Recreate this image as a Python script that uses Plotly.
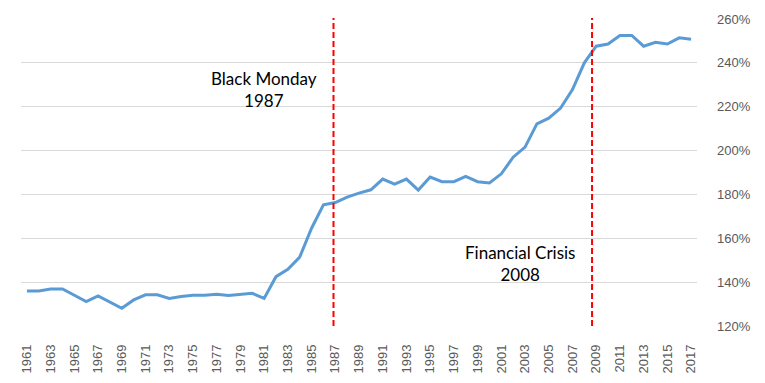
import plotly.graph_objects as go

years = list(range(1961, 2018))
values = [136.0, 136.0, 136.9, 136.9, 134.0, 131.1, 133.7, 131.0, 128.1, 131.9,
          134.2, 134.2, 132.6, 133.5, 134.0, 134.0, 134.5, 133.9, 134.3, 134.9,
          132.6, 142.5, 145.9, 151.4, 164.6, 175.3, 176.3, 178.8, 180.6, 182.1,
          187.0, 184.7, 187.0, 182.0, 187.9, 185.8, 185.8, 188.2, 185.8, 185.2,
          189.4, 197.0, 201.6, 212.2, 214.8, 219.4, 227.8, 240.0, 247.6, 248.6,
          252.5, 252.5, 247.6, 249.4, 248.6, 251.4, 250.8]
tick_years = list(range(1961, 2018, 2))
y_ticks = [120, 140, 160, 180, 200, 220, 240, 260]

events = [("Black Monday<br>1987", 1986.85, 1981.0, 228.0),
          ("Financial Crisis<br>2008", 2008.65, 2002.6, 148.7)]

fig = go.Figure()
fig.add_trace(go.Scatter(x=years, y=values, mode="lines",
                         line=dict(color="#5b9bd5", width=3), showlegend=False,
                         hoverinfo="x+y"))

for label, xline, xt, yt in events:
    fig.add_shape(type="line", xref="x", yref="paper", x0=xline, x1=xline, y0=0, y1=1.003,
                  line=dict(color="#ff0000", width=2, dash="6px,3px"))
    fig.add_annotation(x=xt, y=yt, xref="x", yref="y", text=label, showarrow=False,
                       font=dict(family="Lato, Liberation Sans, sans-serif", size=17, color="#000000"),
                       align="center", xanchor="center", yanchor="middle")

# page body has an 8px default margin, so the figure is offset by 8px
fig.update_layout(
    width=757, height=375,
    margin=dict(l=13, r=68, t=11, b=57, autoexpand=False),
    paper_bgcolor="white", plot_bgcolor="white",
    font=dict(family="Liberation Sans, Arial, sans-serif", size=13, color="#595959"),
)
fig.update_xaxes(range=[1960.5, 2017.5], tickmode="array", tickvals=tick_years,
                 ticktext=[str(y) for y in tick_years], tickangle=-90, automargin=False,
                 showgrid=False, zeroline=False, showline=False, ticks="",
                 ticklabelstandoff=15, tickfont=dict(size=13, color="#595959"))
fig.update_yaxes(range=[120, 260], side="right", tickmode="array", tickvals=y_ticks,
                 ticktext=[f"{v}%" for v in y_ticks], showgrid=True, gridcolor="#d9d9d9",
                 gridwidth=1, zeroline=False, showline=False, ticks="", automargin=False,
                 ticklabelstandoff=19, tickfont=dict(size=13, color="#595959"))

fig.write_html("out.html")
